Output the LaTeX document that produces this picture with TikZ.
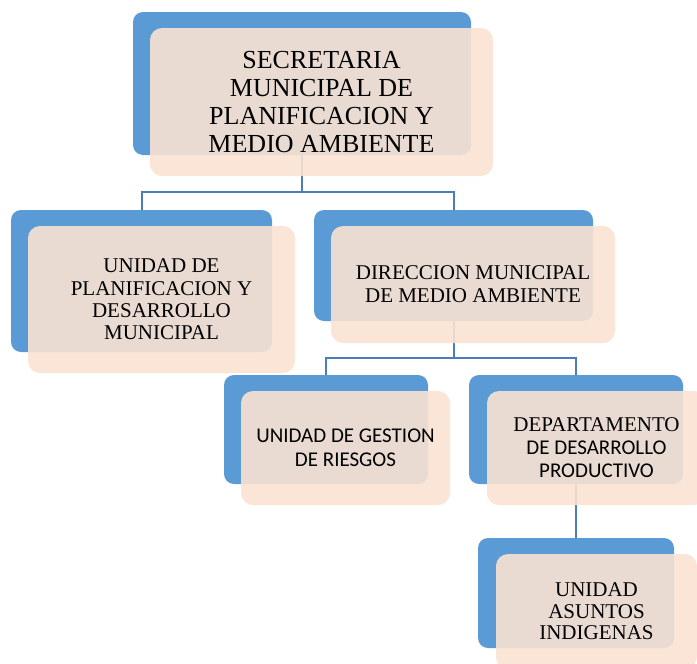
\documentclass[tikz,border=0pt]{standalone}
\usepackage{fontspec}
\setmainfont{Liberation Serif}
\newfontfamily\calibri{Carlito}
\usepackage{xcolor}
\usetikzlibrary{positioning}
\definecolor{cajaazul}{HTML}{5B9BD5}
\definecolor{cajarosa}{HTML}{F9E2D2}
\definecolor{lineaazul}{HTML}{4A7EBB}

\begin{document}
\begin{tikzpicture}[x=1pt, y=-1pt,
        fondo/.style={fill=cajaazul, rounded corners=10pt, inner sep=0pt},
        frente/.style={fill=cajarosa, fill opacity=0.9, text opacity=1, rounded corners=12pt, inner sep=0pt, align=center},
        linea/.style={draw=lineaazul, line width=2pt}]
        \path[use as bounding box, clip] (0,0) rectangle (697,664);

        % Cajas de fondo
        \node[fondo, minimum width=338pt, minimum height=143pt] (secretaria) at (302,83.5) {};
        \node[fondo, minimum width=261pt, minimum height=142pt] (unidad) at (141.5,281) {};
        \node[fondo, minimum width=279pt, minimum height=111pt] (direccion) at (453.5,265.5) {};
        \node[fondo, minimum width=204pt, minimum height=109pt] (gestion) at (326,429.5) {};
        \node[fondo, minimum width=214pt, minimum height=109pt] (departamento) at (576,429.5) {};
        \node[fondo, minimum width=196pt, minimum height=110pt] (asuntos) at (576,593) {};

        % Lineas
        \coordinate (barra1) at (302,192);
        \coordinate (barra2) at (453.5,358);
        \draw[linea] (secretaria.south) -- (barra1);
        \draw[linea] (unidad.north) |- (barra1) -| (direccion.north);
        \draw[linea] (direccion.south) -- (barra2);
        \draw[linea] (gestion.north) |- (barra2) -| (departamento.north);
        \draw[linea] (departamento.south) -- (asuntos.north);

        % Cajas con texto
        \node[frente, minimum width=343pt, minimum height=148pt, font=\fontsize{26}{28}\selectfont] (secretaria-t) at ([shift={(19.5,18.5)}]secretaria.center) {SECRETARIA\\MUNICIPAL DE\\PLANIFICACION Y\\MEDIO AMBIENTE};
        \node[frente, minimum width=267pt, minimum height=147pt, font=\fontsize{21}{22.4}\selectfont] (unidad-t) at ([shift={(20,18.5)}]unidad.center) {UNIDAD DE\\PLANIFICACION Y\\DESARROLLO\\MUNICIPAL};
        \node[frente, minimum width=284pt, minimum height=117pt, font=\fontsize{21}{23}\selectfont] (direccion-t) at ([shift={(19.5,19)}]direccion.center) {DIRECCION MUNICIPAL\\DE MEDIO AMBIENTE};
        \node[frente, minimum width=209pt, minimum height=114pt, font=\calibri\fontsize{21}{24}\selectfont] (gestion-t) at ([shift={(19.5,18.5)}]gestion.center) {UNIDAD DE GESTION\\DE RIESGOS};
        \node[frente, minimum width=219pt, minimum height=114pt, font=\fontsize{21}{23}\selectfont] (departamento-t) at ([shift={(20.5,18.5)}]departamento.center) {DEPARTAMENTO\\{\calibri DE DESARROLLO}\\{\calibri PRODUCTIVO}};
        \node[frente, minimum width=201pt, minimum height=115pt, font=\fontsize{21}{21.5}\selectfont] (asuntos-t) at ([shift={(20.5,18.5)}]asuntos.center) {UNIDAD\\ASUNTOS\\INDIGENAS};
\end{tikzpicture}
\end{document}
